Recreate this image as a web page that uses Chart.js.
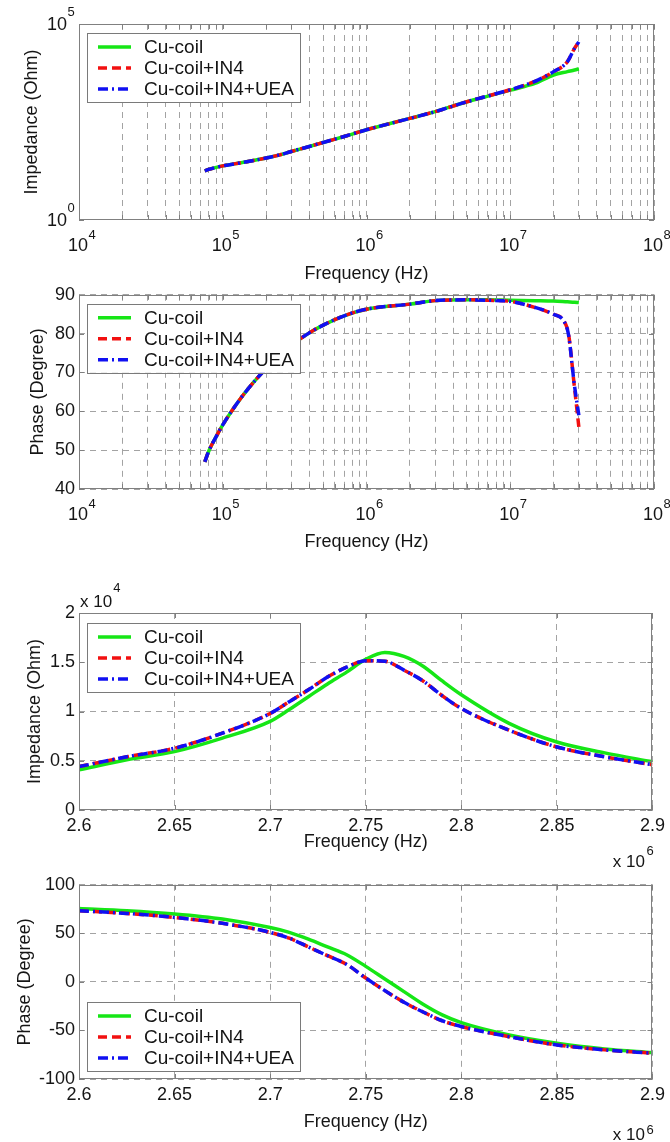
<!DOCTYPE html>
<html>
<head>
<meta charset="utf-8">
<script src="https://cdn.jsdelivr.net/npm/chart.js@4.4.1/dist/chart.umd.min.js"></script>
<style>
  html, body { margin: 0; padding: 0; background: #fff; }
  #wrap { position: relative; width: 670px; height: 1142px; overflow: hidden; }
  #wrap canvas { position: absolute; left: 0; }
</style>
</head>
<body>
<div id="wrap">
  <canvas id="impWide"></canvas>
  <canvas id="phaseWide"></canvas>
  <canvas id="impNarrow"></canvas>
  <canvas id="phaseNarrow"></canvas>
</div>
<script>
const seriesNames = ['Cu-coil', 'Cu-coil+IN4', 'Cu-coil+IN4+UEA'];

// wide sweep (Hz)
const wideFreq = [7.5e4, 8e4, 9e4, 1e5, 1.2e5, 1.5e5, 2e5, 2.5e5, 3e5, 4e5, 5e5, 7e5, 1e6, 2e6, 3e6, 5e6, 7e6, 1e7, 1.5e7, 2e7, 2.5e7, 2.8e7, 3e7];
const wideImpCoil = [18, 19.5, 22, 24, 27, 31, 38, 46, 56, 75, 95, 135, 200, 390, 580, 1040, 1450, 2050, 3100, 5000, 6100, 6700, 7200];
const wideImpIN4 = [18, 19.5, 22, 24, 27, 31, 38, 46, 56, 75, 95, 135, 200, 390, 580, 1040, 1460, 2100, 3500, 6000, 11000, 24000, 35000];
const wideImpUEA = [18, 19.5, 22, 24, 27, 31, 38, 46, 56, 75, 95, 135, 200, 390, 580, 1040, 1460, 2100, 3500, 6100, 11000, 24000, 35000];
const widePhaseCoil = [47, 49.8, 53.5, 56.5, 61, 65.8, 71, 74.5, 77, 80.2, 82.2, 84.6, 86.3, 87.6, 88.5, 88.7, 88.7, 88.6, 88.5, 88.4, 88.2, 88.1, 88.0];
const widePhaseIN4 = [47, 49.8, 53.5, 56.5, 61, 65.8, 71, 74.5, 77, 80.2, 82.2, 84.6, 86.3, 87.6, 88.5, 88.7, 88.6, 88.3, 86.7, 85.0, 81.2, 66, 56];
const widePhaseUEA = [47, 49.8, 53.5, 56.5, 61, 65.8, 71, 74.5, 77, 80.2, 82.2, 84.6, 86.3, 87.6, 88.5, 88.7, 88.6, 88.3, 86.7, 85.0, 81.0, 66.5, 59];

// narrow sweep around resonance (Hz)
const narrowFreq = [2.6e6, 2.625e6, 2.65e6, 2.675e6, 2.7e6, 2.71e6, 2.72e6, 2.73e6, 2.74e6, 2.75e6, 2.76e6, 2.77e6, 2.78e6, 2.79e6, 2.8e6, 2.825e6, 2.85e6, 2.875e6, 2.9e6];
const narrowImpCoil = [4070, 5100, 5930, 7300, 9000, 10200, 11500, 12800, 14000, 15300, 16000, 15600, 14600, 13100, 11700, 8800, 6900, 5800, 4900];
const narrowImpIN4 = [4400, 5400, 6270, 7800, 9800, 11000, 12200, 13500, 14500, 15150, 15100, 14200, 13100, 11600, 10300, 8100, 6400, 5400, 4600];
const narrowImpUEA = [4400, 5400, 6270, 7800, 9800, 11000, 12200, 13500, 14500, 15150, 15100, 14200, 13100, 11600, 10300, 8100, 6400, 5400, 4600];
const narrowPhaseCoil = [75.6, 73.4, 70, 64.8, 56, 51, 44, 36, 28, 16, 3, -10, -23, -34, -42, -54.7, -63.2, -69, -72.8];
const narrowPhaseIN4 = [73.3, 70.5, 66.4, 60.3, 51, 45, 36, 27, 18, 4, -9, -21, -31, -40, -46, -56.4, -64.9, -70, -73.4];
const narrowPhaseUEA = [73.3, 70.5, 66.4, 60.3, 51, 45, 36, 27, 18, 4, -9, -21, -31, -40, -46, -56.4, -64.9, -70, -73.4];

// tick labels
const freqDecades = [4, 5, 6, 7, 8];
const impDecades = [0, 5];

const GREEN = '#16e616', RED = '#f21010', BLUE = '#1010f2';
const GRID = '#a3a3a3', FRAME = '#808080', INK = '#151515';
const FONT = '"Liberation Sans", Arial, sans-serif';

Chart.defaults.font.family = FONT;
Chart.defaults.color = INK;

function makeSets(freq, coil, in4, uea) {
  const pts = v => freq.map((f, i) => ({ x: f, y: v[i] }));
  return [
    { label: seriesNames[0], data: pts(coil), borderColor: GREEN, borderWidth: 3.5, order: 3 },
    { label: seriesNames[1], data: pts(in4), borderColor: RED, borderWidth: 3.5, borderDash: [9, 5], order: 2 },
    { label: seriesNames[2], data: pts(uea), borderColor: BLUE, borderWidth: 3.5, borderDash: [10, 4, 2, 4], order: 1 }
  ];
}

// 1..9 x 10^k grid positions for the log axes
function logGrid(decs) {
  const out = [];
  for (let i = 0; i < decs.length - 1; i++) {
    for (let m = 1; m < 10; m++) out.push({ value: m * Math.pow(10, decs[i]) });
  }
  out.push({ value: Math.pow(10, decs[decs.length - 1]) });
  return out;
}

function drawPow(ctx, base, exp, bx, by, ex, ey) {
  ctx.textBaseline = 'middle';
  ctx.font = '18px ' + FONT;
  ctx.textAlign = 'right';
  ctx.fillText(base, bx, by);
  ctx.font = '13px ' + FONT;
  ctx.textAlign = 'left';
  ctx.fillText(exp, ex, ey);
}

function matlabAxes(deco) {
  return {
    id: 'matlabAxes',
    afterDatasetsDraw(chart) {
      const { ctx, chartArea: a, scales } = chart;
      ctx.save();
      // inner tick marks + box
      ctx.strokeStyle = FRAME;
      ctx.lineWidth = 1;
      ctx.beginPath();
      scales.x.ticks.forEach(t => {
        const px = Math.round(scales.x.getPixelForValue(t.value)) + 0.5;
        ctx.moveTo(px, a.top); ctx.lineTo(px, a.top + 5);
        ctx.moveTo(px, a.bottom); ctx.lineTo(px, a.bottom - 5);
      });
      scales.y.ticks.forEach(t => {
        const py = Math.round(scales.y.getPixelForValue(t.value)) + 0.5;
        ctx.moveTo(a.left, py); ctx.lineTo(a.left + 5, py);
        ctx.moveTo(a.right, py); ctx.lineTo(a.right - 5, py);
      });
      ctx.stroke();
      ctx.strokeRect(Math.round(a.left) + 0.5, Math.round(a.top) + 0.5,
        Math.round(a.width) - 1, Math.round(a.height) - 1);

      ctx.fillStyle = INK;
      if (deco.logX) {
        freqDecades.forEach(e => {
          const px = scales.x.getPixelForValue(Math.pow(10, e));
          drawPow(ctx, '10', String(e), px + 9, a.bottom + 26, px + 9.5, a.bottom + 15);
        });
      }
      if (deco.logY) {
        impDecades.forEach(e => {
          const py = scales.y.getPixelForValue(Math.pow(10, e));
          drawPow(ctx, '10', String(e), 67, py + 1, 67.5, py - 12);
        });
      }
      if (deco.yMult) {
        ctx.font = '17px ' + FONT;
        ctx.textAlign = 'left';
        ctx.textBaseline = 'alphabetic';
        ctx.fillText('x 10', 80, a.top - 6);
        const w = ctx.measureText('x 10').width;
        ctx.font = '13px ' + FONT;
        ctx.fillText(deco.yMult, 80 + w + 1, a.top - 21);
      }
      if (deco.xMult) {
        ctx.font = '17px ' + FONT;
        ctx.textAlign = 'right';
        ctx.textBaseline = 'alphabetic';
        ctx.fillText('x 10', 645, a.bottom + deco.xMult.base);
        ctx.font = '13px ' + FONT;
        ctx.textAlign = 'left';
        ctx.fillText(deco.xMult.exp, 646.5, a.bottom + deco.xMult.sup);
      }

      // legend box
      const ly = deco.legendFromBottom ? a.bottom - deco.legendFromBottom : a.top + deco.legendFromTop;
      ctx.fillStyle = '#fff';
      ctx.fillRect(87, ly, 213, 69);
      ctx.strokeStyle = '#7a7a7a';
      ctx.strokeRect(87.5, Math.round(ly) + 0.5, 213, 69);
      chart.data.datasets.forEach((ds, i) => {
        const cy = ly + 14 + 21 * i;
        ctx.strokeStyle = ds.borderColor;
        ctx.lineWidth = 3.5;
        ctx.setLineDash(ds.borderDash || []);
        ctx.beginPath();
        ctx.moveTo(98, cy); ctx.lineTo(131, cy);
        ctx.stroke();
        ctx.setLineDash([]);
        ctx.fillStyle = INK;
        ctx.font = '19px ' + FONT;
        ctx.textAlign = 'left';
        ctx.textBaseline = 'middle';
        ctx.fillText(ds.label, 144, cy + 1);
      });
      ctx.restore();
    }
  };
}

function makeChart(id, g, xOpts, yOpts, datasets, deco) {
  const cv = document.getElementById(id);
  cv.width = 670; cv.height = g.height;
  cv.style.width = '670px'; cv.style.height = g.height + 'px';
  cv.style.top = g.top + 'px';
  const lh = 18 * 1.2 / 2;
  const gridOpts = { drawTicks: false, color: GRID, lineWidth: 1 };
  return new Chart(cv, {
    type: 'line',
    data: { datasets },
    options: {
      responsive: false,
      animation: false,
      devicePixelRatio: 1,
      layout: { padding: { top: g.areaTop - g.top, left: 0, right: 16, bottom: 0 } },
      plugins: { legend: { display: false }, tooltip: { enabled: false } },
      elements: { point: { radius: 0 }, line: { cubicInterpolationMode: 'monotone', fill: false } },
      scales: {
        x: Object.assign({
          grid: gridOpts,
          border: { display: false, dash: [6, 5] },
          title: { display: true, text: 'Frequency (Hz)', font: { size: 18 },
            padding: { top: 0, bottom: g.top + g.height - g.xTitleY - lh } },
          afterFit: s => { s.height = g.top + g.height - g.areaBottom; }
        }, xOpts),
        y: Object.assign({
          grid: gridOpts,
          border: { display: false, dash: [6, 5] },
          title: { display: true, text: g.yTitle, font: { size: 18 },
            padding: { top: g.yTitleX - lh, bottom: 0 } },
          afterFit: s => { s.width = 79; }
        }, yOpts)
      }
    },
    plugins: [matlabAxes(deco)]
  });
}

const logX = {
  type: 'logarithmic', min: 1e4, max: 1e8,
  ticks: { display: false },
  afterBuildTicks: s => { s.ticks = logGrid(freqDecades); }
};
const linX = {
  type: 'linear', min: 2.6e6, max: 2.9e6,
  ticks: { stepSize: 5e4, autoSkip: false, padding: 5, font: { size: 18 }, maxRotation: 0,
    callback: v => String(v / 1e6) }
};

makeChart('impWide',
  { top: 0, height: 290, areaTop: 24, areaBottom: 220, xTitleY: 274, yTitleX: 32, yTitle: 'Impedance (Ohm)' },
  logX,
  { type: 'logarithmic', min: 1, max: 1e5, grid: { display: false }, ticks: { display: false },
    afterBuildTicks: s => { s.ticks = impDecades.map(e => ({ value: Math.pow(10, e) })); } },
  makeSets(wideFreq, wideImpCoil, wideImpIN4, wideImpUEA),
  { logX: true, logY: true, legendFromTop: 9 });

makeChart('phaseWide',
  { top: 280, height: 285, areaTop: 294, areaBottom: 489, xTitleY: 542, yTitleX: 38, yTitle: 'Phase (Degree)' },
  logX,
  { type: 'linear', min: 40, max: 90, ticks: { stepSize: 10, padding: 4, font: { size: 18 } } },
  makeSets(wideFreq, widePhaseCoil, widePhaseIN4, widePhaseUEA),
  { logX: true, legendFromTop: 9 });

makeChart('impNarrow',
  { top: 565, height: 310, areaTop: 613, areaBottom: 810, xTitleY: 842, yTitleX: 35, yTitle: 'Impedance (Ohm)' },
  linX,
  { type: 'linear', min: 0, max: 2e4, ticks: { stepSize: 5000, padding: 4, font: { size: 18 },
    callback: v => String(v / 1e4) } },
  makeSets(narrowFreq, narrowImpCoil, narrowImpIN4, narrowImpUEA),
  { yMult: '4', xMult: { exp: '6', base: 57, sup: 45 }, legendFromTop: 10 });

makeChart('phaseNarrow',
  { top: 870, height: 272, areaTop: 884, areaBottom: 1079, xTitleY: 1122, yTitleX: 25, yTitle: 'Phase (Degree)' },
  linX,
  { type: 'linear', min: -100, max: 100, ticks: { stepSize: 50, padding: 4, font: { size: 18 },
    callback: v => String(v) } },
  makeSets(narrowFreq, narrowPhaseCoil, narrowPhaseIN4, narrowPhaseUEA),
  { xMult: { exp: '6', base: 61, sup: 55 }, legendFromBottom: 77 });
</script>
</body>
</html>
